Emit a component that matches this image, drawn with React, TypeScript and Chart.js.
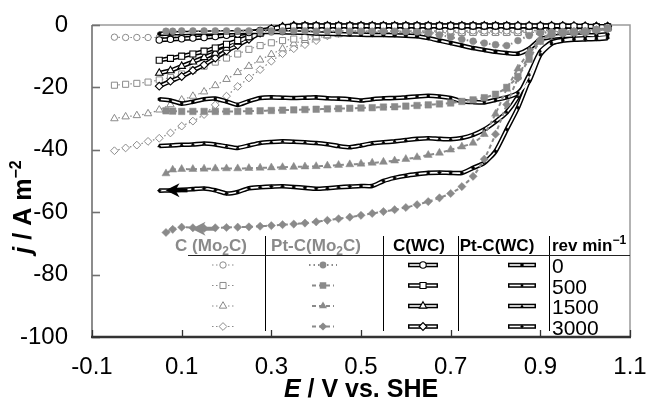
import React, { useEffect, useRef } from 'react';
import { Chart, registerables } from 'chart.js';

Chart.register(...registerables);

// ---------- axes ----------
const xTicks = [-0.1, 0.1, 0.3, 0.5, 0.7, 0.9, 1.1];
const yTicks = [0, -20, -40, -60, -80, -100];

// ---------- legend table text ----------
const rotationLabels = ['0', '500', '1500', '3000'];

// ---------- potentials (V vs. SHE) ----------
const E_PT = [0.05, 0.075, 0.1, 0.125, 0.15, 0.175, 0.2, 0.225, 0.25, 0.275, 0.3, 0.325, 0.35, 0.375, 0.4, 0.425, 0.45, 0.475, 0.5, 0.525, 0.55, 0.575, 0.6, 0.625, 0.65, 0.675, 0.7, 0.725, 0.75, 0.775, 0.8, 0.825, 0.85, 0.875, 0.9, 0.925, 0.95, 0.975, 1.0, 1.025, 1.05];
const E_PTMO = [0.065, 0.08, 0.1, 0.125, 0.15, 0.175, 0.2, 0.225, 0.25, 0.275, 0.3, 0.325, 0.35, 0.375, 0.4, 0.425, 0.45, 0.475, 0.5, 0.525, 0.55, 0.575, 0.6, 0.625, 0.65, 0.675, 0.7, 0.725, 0.75, 0.775, 0.8, 0.825, 0.85, 0.875, 0.9, 0.925, 0.95, 0.975, 1.0, 1.025, 1.05];
const E_MO = [-0.05, -0.025, 0, 0.025, 0.05, 0.075, 0.1, 0.125, 0.15, 0.175, 0.2, 0.225, 0.25, 0.275, 0.3, 0.325, 0.35, 0.375, 0.4, 0.425, 0.45, 0.475, 0.5, 0.525, 0.55, 0.575, 0.6, 0.625, 0.65, 0.675, 0.7, 0.725, 0.75, 0.775, 0.8, 0.825, 0.85, 0.875, 0.9, 0.925, 0.95, 0.975, 1.0, 1.025, 1.05];

// ---------- C (Mo2C) : j / A m^-2 on E_MO ----------
const cMo_0 = [-3.9, -4.0, -4.0, -4.0, -4.0, -3.9, -3.8, -3.6, -3.4, -3.2, -3.0, -2.8, -2.6, -2.4, -2.3, -2.2, -2.1, -2.0, -2.0, -2.0, -1.9, -1.9, -1.9, -1.9, -1.9, -1.9, -1.9, -1.9, -1.9, -1.9, -1.9, -1.9, -1.9, -1.9, -1.9, -1.9, -1.9, -1.8, -1.6, -1.4, -1.2, -1.0, -0.9, -0.8, -0.8];
const cMo_500 = [-19.3, -19.0, -18.7, -18.3, -17.6, -16.8, -15.7, -14.5, -13.2, -11.9, -10.6, -9.3, -7.8, -6.6, -5.7, -5.0, -4.5, -4.0, -3.5, -3.1, -2.8, -2.6, -2.5, -2.4, -2.4, -2.4, -2.4, -2.4, -2.4, -2.4, -2.4, -2.4, -2.4, -2.4, -2.4, -2.4, -2.4, -2.3, -2.2, -2.1, -2.0, -1.8, -1.5, -1.2, -1.0];
const cMo_1500 = [-30.0, -29.4, -29.0, -28.4, -27.2, -25.5, -24.0, -22.8, -21.4, -19.4, -17.4, -15.2, -13.2, -11.2, -9.4, -7.6, -6.0, -4.9, -4.1, -3.5, -3.0, -2.7, -2.6, -2.5, -2.5, -2.5, -2.5, -2.5, -2.5, -2.5, -2.5, -2.5, -2.5, -2.5, -2.5, -2.5, -2.5, -2.4, -2.3, -2.2, -2.0, -1.8, -1.6, -1.3, -1.1];
const cMo_3000 = [-40.3, -39.4, -38.5, -37.3, -36.3, -34.6, -32.4, -30.8, -28.7, -25.6, -22.8, -19.7, -17.0, -14.3, -11.6, -9.2, -7.6, -6.3, -5.0, -3.5, -2.7, -2.3, -2.1, -2.0, -2.0, -2.0, -2.0, -2.0, -2.0, -2.0, -2.0, -2.0, -2.0, -2.0, -2.0, -2.0, -2.0, -1.9, -1.8, -1.7, -1.6, -1.4, -1.1, -0.8, -0.6];

// ---------- Pt-C (Mo2C) on E_PTMO ----------
const ptMo_0 = [-2.0, -2.0, -1.9, -1.9, -1.9, -1.9, -1.9, -1.9, -1.9, -1.9, -1.9, -1.9, -1.9, -1.9, -2.0, -2.0, -2.0, -2.0, -2.0, -2.0, -2.0, -2.0, -2.1, -2.2, -2.6, -3.2, -3.9, -4.6, -5.2, -5.8, -6.3, -6.6, -5.0, -3.4, -2.6, -2.3, -2.1, -2.0, -1.9, -1.5, -1.2];
const ptMo_500 = [-27.5, -27.6, -27.7, -27.7, -27.7, -27.7, -27.7, -27.7, -27.6, -27.5, -27.4, -27.3, -27.2, -27.1, -27.0, -26.9, -26.8, -26.7, -26.6, -26.5, -26.3, -26.2, -26.0, -25.8, -25.6, -25.3, -25.0, -24.5, -24.0, -23.3, -22.2, -20.0, -16.5, -11.0, -5.2, -3.0, -2.5, -2.3, -2.2, -1.5, -1.0];
const ptMo_1500 = [-47.6, -46.4, -46.2, -46.2, -46.1, -46.0, -46.0, -46.0, -45.9, -45.8, -45.7, -45.6, -45.5, -45.4, -45.3, -45.1, -44.9, -44.7, -44.5, -44.2, -43.9, -43.5, -43.0, -42.4, -41.7, -41.0, -40.0, -39.0, -37.8, -35.0, -28.5, -20.5, -14.0, -8.5, -4.5, -2.8, -2.4, -2.2, -2.1, -1.6, -1.2];
const ptMo_3000 = [-66.5, -65.5, -64.8, -65.0, -65.2, -65.0, -64.9, -64.8, -64.7, -64.5, -64.3, -64.0, -63.8, -63.5, -63.1, -62.6, -62.1, -61.6, -61.0, -60.4, -59.8, -59.2, -58.5, -57.6, -56.6, -55.4, -54.0, -51.8, -48.5, -43.0, -35.0, -25.5, -17.0, -9.5, -5.0, -3.2, -2.8, -2.6, -2.5, -1.8, -1.3];

// ---------- C (WC) on E_PT ----------
const cWC_0 = [-4.8, -4.6, -4.4, -4.2, -4.0, -3.7, -3.3, -2.9, -2.4, -1.8, -1.2, -0.7, -0.4, -0.3, -0.3, -0.3, -0.3, -0.3, -0.3, -0.3, -0.3, -0.3, -0.3, -0.3, -0.3, -0.3, -0.3, -0.3, -0.3, -0.3, -0.3, -0.3, -0.3, -0.3, -0.3, -0.3, -0.3, -0.3, -0.4, -0.5, -0.5];
const cWC_500 = [-11.3, -10.7, -10.0, -9.3, -8.4, -7.4, -6.2, -5.0, -3.8, -2.6, -1.5, -0.8, -0.4, -0.3, -0.3, -0.3, -0.3, -0.3, -0.3, -0.3, -0.3, -0.3, -0.3, -0.3, -0.3, -0.3, -0.3, -0.3, -0.3, -0.3, -0.3, -0.3, -0.4, -0.4, -0.4, -0.4, -0.4, -0.5, -0.5, -0.6, -0.6];
const cWC_1500 = [-15.4, -14.6, -13.2, -11.8, -10.4, -9.0, -7.4, -5.5, -3.9, -2.4, -1.3, -0.6, -0.3, -0.3, -0.3, -0.3, -0.3, -0.3, -0.3, -0.3, -0.3, -0.3, -0.3, -0.3, -0.3, -0.3, -0.3, -0.3, -0.3, -0.3, -0.3, -0.3, -0.3, -0.3, -0.3, -0.3, -0.4, -0.4, -0.5, -0.5, -0.6];
const cWC_3000 = [-19.6, -18.0, -16.5, -14.6, -12.8, -10.6, -8.3, -6.5, -4.6, -2.6, -1.3, -0.5, -0.2, -0.2, -0.2, -0.2, -0.2, -0.2, -0.2, -0.2, -0.2, -0.2, -0.2, -0.2, -0.2, -0.2, -0.2, -0.2, -0.2, -0.2, -0.2, -0.2, -0.2, -0.2, -0.2, -0.2, -0.2, -0.3, -0.3, -0.4, -0.4];

// ---------- Pt-C (WC) on E_PT ----------
const ptWC_0 = [-2.8, -2.7, -2.6, -2.5, -2.5, -2.4, -2.3, -2.3, -2.2, -2.2, -2.2, -2.3, -2.4, -2.5, -2.7, -2.8, -2.9, -3.0, -3.1, -3.2, -3.2, -3.3, -3.4, -3.6, -4.2, -5.0, -5.8, -6.6, -7.4, -8.0, -8.6, -9.0, -9.2, -7.6, -4.6, -3.8, -3.5, -3.4, -3.3, -3.3, -3.0];
const ptWC_500 = [-23.8, -24.2, -25.2, -24.6, -23.8, -23.6, -24.5, -25.6, -24.4, -23.4, -23.2, -23.3, -23.4, -23.3, -23.2, -23.5, -23.6, -23.8, -24.2, -23.8, -23.5, -23.4, -23.2, -22.9, -22.7, -22.9, -23.4, -24.4, -24.7, -24.8, -24.0, -23.2, -21.8, -18.0, -9.5, -6.0, -4.8, -4.4, -4.2, -4.1, -3.8];
const ptWC_1500 = [-38.8, -38.6, -38.4, -38.3, -38.0, -38.3, -38.9, -39.4, -38.6, -37.8, -37.5, -37.3, -37.4, -37.6, -37.8, -38.2, -38.8, -39.2, -38.6, -37.9, -37.6, -37.3, -36.9, -36.5, -36.3, -36.5, -36.6, -36.2, -35.2, -33.5, -31.0, -28.0, -23.0, -16.0, -8.5, -5.5, -4.8, -4.5, -4.4, -4.3, -4.0];
const ptWC_3000 = [-53.1, -53.0, -52.8, -52.6, -52.4, -53.0, -54.0, -53.5, -52.3, -52.0, -51.8, -51.7, -51.9, -52.2, -52.5, -52.3, -52.0, -51.8, -51.6, -51.6, -50.0, -49.0, -48.3, -47.8, -47.4, -47.3, -47.4, -47.4, -45.8, -44.2, -40.5, -33.5, -26.5, -17.5, -9.0, -5.8, -5.0, -4.7, -4.6, -4.5, -4.2];

// ---------- scan-direction arrows (data coordinates) ----------
const arrowTailE = [0.113, 0.178];
const arrowHeadE = [0.064, 0.122];
const arrowJ = [-53.0, -65.3];

// ---------- styles ----------
const FF = '"Liberation Sans", Arial, Helvetica, sans-serif';
const GRAY = '#8a8a8a';
const SHAPES = ['circle', 'rect', 'triangle', 'rectRot'];
const R_OPEN: Record<string, number> = { circle: 3.2, rect: 4.3, triangle: 4.3, rectRot: 3.9 };
const R_FILL: Record<string, number> = { circle: 3.4, rect: 4.6, triangle: 4.6, rectRot: 4.1 };

const toPts = (xs: number[], ys: number[]) => ys.map((y, i) => ({ x: xs[i], y }));

function markerPath(ctx: CanvasRenderingContext2D, shape: string, x: number, y: number, r: number) {
  ctx.beginPath();
  if (shape === 'circle') {
    ctx.arc(x, y, r, 0, Math.PI * 2);
  } else if (shape === 'rect') {
    const s = r * Math.SQRT1_2;
    ctx.rect(x - s, y - s, 2 * s, 2 * s);
  } else if (shape === 'triangle') {
    let a = 0;
    ctx.moveTo(x + Math.sin(a) * r, y - Math.cos(a) * r);
    a += (2 * Math.PI) / 3;
    ctx.lineTo(x + Math.sin(a) * r, y - Math.cos(a) * r);
    a += (2 * Math.PI) / 3;
    ctx.lineTo(x + Math.sin(a) * r, y - Math.cos(a) * r);
    ctx.closePath();
  } else {
    ctx.moveTo(x - r, y);
    ctx.lineTo(x, y - r);
    ctx.lineTo(x + r, y);
    ctx.lineTo(x, y + r);
    ctx.closePath();
  }
}

type Seg = { t: string; f: string; dy?: number };
function drawSegs(ctx: CanvasRenderingContext2D, segs: Seg[], x: number, y: number, align: 'left' | 'center', color: string) {
  let total = 0;
  for (const s of segs) {
    ctx.font = s.f;
    total += ctx.measureText(s.t).width;
  }
  let cx = align === 'center' ? x - total / 2 : x;
  ctx.fillStyle = color;
  ctx.textAlign = 'left';
  ctx.textBaseline = 'alphabetic';
  for (const s of segs) {
    ctx.font = s.f;
    ctx.fillText(s.t, cx, y + (s.dy || 0));
    cx += ctx.measureText(s.t).width;
  }
}

function buildDatasets() {
  const ds: any[] = [];
  const cMo = [cMo_0, cMo_500, cMo_1500, cMo_3000];
  const ptMo = [ptMo_0, ptMo_500, ptMo_1500, ptMo_3000];
  const cWC = [cWC_0, cWC_500, cWC_1500, cWC_3000];
  const ptWC = [ptWC_0, ptWC_500, ptWC_1500, ptWC_3000];
  const base = { showLine: true, clip: 10, tension: 0.2, pointHoverRadius: 0 };

  cMo.forEach((ys, i) => {
    const sh = SHAPES[i];
    ds.push({
      ...base,
      label: 'C (Mo2C) ' + rotationLabels[i],
      data: toPts(E_MO, ys),
      borderColor: GRAY,
      borderWidth: 1.2,
      borderDash: [1.5, 2.5],
      pointStyle: sh,
      pointRadius: R_OPEN[sh],
      pointBackgroundColor: '#ffffff',
      pointBorderColor: GRAY,
      pointBorderWidth: 1,
      order: 100,
    });
  });

  const doubleLine = (ys: number[], i: number, name: string, open: boolean, ord: number) => {
    const sh = SHAPES[i];
    ds.push({
      ...base,
      label: name + ' ' + rotationLabels[i] + ' outline',
      data: toPts(E_PT, ys),
      borderColor: '#000000',
      borderWidth: 4.6,
      pointRadius: 0,
      order: ord + 1,
    });
    ds.push({
      ...base,
      label: name + ' ' + rotationLabels[i],
      data: toPts(E_PT, ys),
      borderColor: '#ffffff',
      borderWidth: 1.6,
      pointStyle: sh,
      pointRadius: open ? R_OPEN[sh] : 1.8,
      pointBackgroundColor: open ? '#ffffff' : '#000000',
      pointBorderColor: '#000000',
      pointBorderWidth: open ? 1.1 : 0.6,
      order: ord,
    });
  };

  cWC.forEach((ys, i) => doubleLine(ys, i, 'C(WC)', true, 60));
  ptWC.forEach((ys, i) => doubleLine(ys, i, 'Pt-C(WC)', false, 40));

  ptMo.forEach((ys, i) => {
    const sh = SHAPES[i];
    ds.push({
      ...base,
      label: 'Pt-C(Mo2C) ' + rotationLabels[i],
      data: toPts(E_PTMO, ys),
      borderColor: GRAY,
      borderWidth: 2,
      borderDash: i === 0 ? [1.5, 3] : [4, 3],
      pointStyle: sh,
      pointRadius: R_FILL[sh],
      pointBackgroundColor: GRAY,
      pointBorderColor: GRAY,
      pointBorderWidth: 0.5,
      order: 10,
    });
  });
  return ds;
}

const framePlugin = {
  id: 'frame',
  beforeDatasetsDraw(chart: any) {
    const { ctx, chartArea: a, scales } = chart;
    ctx.save();
    ctx.lineCap = 'butt';
    ctx.strokeStyle = '#9a9a9a';
    ctx.lineWidth = 1.5;
    ctx.beginPath();
    ctx.moveTo(a.left, a.top);
    ctx.lineTo(a.right, a.top);
    ctx.lineTo(a.right, a.bottom);
    ctx.stroke();
    ctx.strokeStyle = '#707070';
    ctx.lineWidth = 1.6;
    ctx.beginPath();
    ctx.moveTo(a.left, a.top);
    ctx.lineTo(a.left, a.bottom);
    ctx.stroke();
    for (const v of yTicks) {
      const py = Math.round(scales.y.getPixelForValue(v)) + 0.5;
      ctx.beginPath();
      ctx.moveTo(a.left, py);
      ctx.lineTo(a.left + 8, py);
      ctx.stroke();
    }
    ctx.strokeStyle = '#333333';
    ctx.lineWidth = 2.4;
    ctx.beginPath();
    ctx.moveTo(a.left - 1, a.bottom);
    ctx.lineTo(a.right + 1, a.bottom);
    ctx.stroke();
    ctx.lineWidth = 1.3;
    for (const v of xTicks) {
      const px = Math.round(scales.x.getPixelForValue(v)) + 0.5;
      ctx.beginPath();
      ctx.moveTo(px, a.bottom);
      ctx.lineTo(px, a.bottom - 7);
      ctx.stroke();
    }
    ctx.restore();
  },
};

const arrowPlugin = {
  id: 'arrows',
  afterDatasetsDraw(chart: any) {
    const { ctx, scales } = chart;
    const colors = ['#000000', GRAY];
    ctx.save();
    for (let i = 0; i < arrowJ.length; i++) {
      const y = scales.y.getPixelForValue(arrowJ[i]);
      const xt = scales.x.getPixelForValue(arrowTailE[i]);
      const xh = scales.x.getPixelForValue(arrowHeadE[i]);
      ctx.strokeStyle = colors[i];
      ctx.fillStyle = colors[i];
      ctx.lineWidth = 4;
      ctx.beginPath();
      ctx.moveTo(xt, y);
      ctx.lineTo(xh + 8, y);
      ctx.stroke();
      ctx.beginPath();
      ctx.moveTo(xh, y);
      ctx.lineTo(xh + 14, y - 7);
      ctx.lineTo(xh + 10, y);
      ctx.lineTo(xh + 14, y + 7);
      ctx.closePath();
      ctx.fill();
    }
    ctx.restore();
  },
};

const legendPlugin = {
  id: 'tableLegend',
  afterDraw(chart: any) {
    const ctx: CanvasRenderingContext2D = chart.ctx;
    ctx.save();
    ctx.strokeStyle = '#000000';
    ctx.lineWidth = 1;
    for (const vx of [265.5, 383.5, 458.5, 549.5]) {
      ctx.beginPath();
      ctx.moveTo(vx, 236);
      ctx.lineTo(vx, 331);
      ctx.stroke();
    }
    ctx.strokeStyle = '#222222';
    ctx.lineWidth = 1.2;
    ctx.beginPath();
    ctx.moveTo(188, 255.5);
    ctx.lineTo(630, 255.5);
    ctx.stroke();

    const hf = `bold 17px ${FF}`;
    const sf = `bold 12px ${FF}`;
    const hy = 251;
    drawSegs(ctx, [{ t: 'C (Mo', f: hf }, { t: '2', f: sf, dy: 4 }, { t: 'C)', f: hf }], 211, hy, 'center', GRAY);
    drawSegs(ctx, [{ t: 'Pt-C(Mo', f: hf }, { t: '2', f: sf, dy: 4 }, { t: 'C)', f: hf }], 316, hy, 'center', GRAY);
    drawSegs(ctx, [{ t: 'C(WC)', f: hf }], 419, hy, 'center', '#000');
    drawSegs(ctx, [{ t: 'Pt-C(WC)', f: hf }], 497, hy, 'center', '#000');
    drawSegs(ctx, [{ t: 'rev min', f: hf }, { t: '−1', f: sf, dy: -7 }], 552, hy, 'left', '#000');

    const rows = [265, 285.5, 306, 326.5];
    const cols = [223, 323, 423, 522];
    rows.forEach((ry, r) => {
      const sh = SHAPES[r];
      ctx.setLineDash([1.5, 2.5]);
      ctx.strokeStyle = GRAY;
      ctx.lineWidth = 1.2;
      ctx.beginPath();
      ctx.moveTo(cols[0] - 11, ry);
      ctx.lineTo(cols[0] + 11, ry);
      ctx.stroke();
      ctx.setLineDash([]);
      markerPath(ctx, sh, cols[0], ry, R_OPEN[sh]);
      ctx.fillStyle = '#fff';
      ctx.fill();
      ctx.lineWidth = 1;
      ctx.stroke();
      ctx.setLineDash(r === 0 ? [1.5, 3] : [4, 3]);
      ctx.lineWidth = 2;
      ctx.beginPath();
      ctx.moveTo(cols[1] - (r === 0 ? 14 : 11), ry);
      ctx.lineTo(cols[1] + (r === 0 ? 14 : 11), ry);
      ctx.stroke();
      ctx.setLineDash([]);
      markerPath(ctx, sh, cols[1], ry, R_FILL[sh]);
      ctx.fillStyle = GRAY;
      ctx.fill();
      [2, 3].forEach((c) => {
        const half = c === 2 ? 15 : 14;
        ctx.strokeStyle = '#000';
        ctx.lineWidth = 4.6;
        ctx.beginPath();
        ctx.moveTo(cols[c] - half, ry);
        ctx.lineTo(cols[c] + half, ry);
        ctx.stroke();
        ctx.strokeStyle = '#fff';
        ctx.lineWidth = 1.6;
        ctx.beginPath();
        ctx.moveTo(cols[c] - half + 1.5, ry);
        ctx.lineTo(cols[c] + half - 1.5, ry);
        ctx.stroke();
        if (c === 2) {
          markerPath(ctx, sh, cols[c], ry, R_OPEN[sh]);
          ctx.fillStyle = '#fff';
          ctx.fill();
          ctx.strokeStyle = '#000';
          ctx.lineWidth = 1.1;
          ctx.stroke();
        } else {
          markerPath(ctx, sh, cols[c], ry, 1.8);
          ctx.fillStyle = '#000';
          ctx.fill();
        }
      });
      ctx.fillStyle = '#000';
      ctx.font = `21px ${FF}`;
      ctx.textAlign = 'left';
      ctx.textBaseline = 'alphabetic';
      ctx.fillText(rotationLabels[r], 552, ry + 8);
    });

    const tf = `bold 25px ${FF}`;
    const tfi = `italic bold 25px ${FF}`;
    drawSegs(ctx, [{ t: 'E', f: tfi }, { t: ' / V vs. SHE', f: tf }], 361, 397, 'center', '#000');
    ctx.save();
    ctx.translate(22, 207);
    ctx.rotate(-Math.PI / 2);
    drawSegs(ctx, [{ t: 'j', f: tfi }, { t: ' / A m', f: tf }, { t: '−2', f: `bold 16px ${FF}`, dy: -10 }], 0, 9, 'center', '#000');
    ctx.restore();
    ctx.restore();
  },
};

export default function App() {
  const ref = useRef<HTMLCanvasElement>(null);
  useEffect(() => {
    document.body.style.margin = '0';
    const canvas = ref.current;
    if (!canvas) return;
    const chart = new Chart(canvas, {
      type: 'scatter',
      data: { datasets: buildDatasets() },
      options: {
        animation: false,
        responsive: false,
        events: [],
        layout: { padding: { top: 25, right: 19, left: 0, bottom: 0 } },
        plugins: { legend: { display: false }, tooltip: { enabled: false } },
        scales: {
          x: {
            type: 'linear',
            min: -0.1,
            max: 1.1,
            afterBuildTicks: (s: any) => {
              s.ticks = xTicks.map((v) => ({ value: v }));
            },
            afterFit: (s: any) => {
              s.height = 63;
              s.paddingLeft = 0;
              s.paddingRight = 0;
              s.paddingTop = 0;
              s.paddingBottom = 0;
            },
            grid: { display: false, drawTicks: false },
            border: { display: false },
            ticks: {
              color: '#000',
              font: { family: FF, size: 24 },
              padding: 16,
              maxRotation: 0,
              autoSkip: false,
              callback: (v: any) => String(v),
            },
          },
          y: {
            type: 'linear',
            min: -100,
            max: 0,
            afterBuildTicks: (s: any) => {
              s.ticks = yTicks.map((v) => ({ value: v }));
            },
            afterFit: (s: any) => {
              s.width = 92;
              s.paddingLeft = 0;
              s.paddingRight = 0;
              s.paddingTop = 0;
              s.paddingBottom = 0;
            },
            grid: { display: false, drawTicks: false },
            border: { display: false },
            ticks: {
              color: '#000',
              font: { family: FF, size: 24 },
              padding: 24,
              autoSkip: false,
              callback: (v: any) => String(v),
            },
          },
        },
      } as any,
      plugins: [framePlugin, arrowPlugin, legendPlugin],
    });
    return () => chart.destroy();
  }, []);
  return <canvas ref={ref} width={649} height={400} style={{ display: 'block' }} />;
}
